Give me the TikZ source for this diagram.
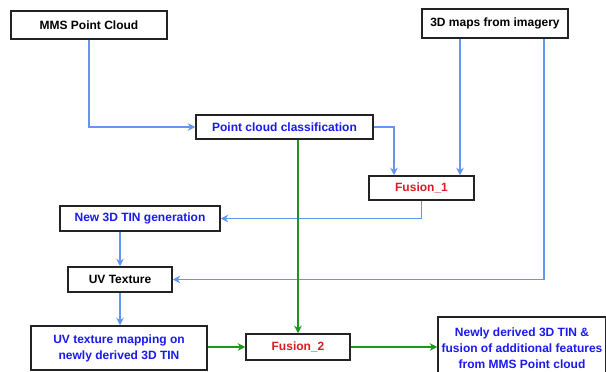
\documentclass[tikz,border=0pt]{standalone}
\usepackage{fontspec}
\setmainfont{Liberation Sans}
\usetikzlibrary{arrows.meta}
\definecolor{txtblue}{RGB}{25,25,240}
\definecolor{txtred}{RGB}{215,30,35}
\definecolor{lineblue}{RGB}{100,150,240}
\definecolor{linegreen}{RGB}{30,150,30}
\definecolor{boxline}{RGB}{35,35,35}
\begin{document}
\begin{tikzpicture}[x=1pt,y=-1pt,
  box/.style={draw=boxline,line width=1.5pt,fill=white,rectangle,inner sep=0pt,align=center,
    font=\fontsize{12}{16}\selectfont\bfseries},
  bluearr/.style={draw=lineblue,line width=1.5pt,-{Stealth[length=7.5pt,width=7.5pt]}},
  greenarr/.style={draw=linegreen,line width=1.5pt,-{Stealth[length=7.5pt,width=7.5pt]}}]
\useasboundingbox (0,0) rectangle (606,372);
\fill[white] (0,0) rectangle (606,372);
\begin{scope}
\clip (0,0) rectangle (606,372);
\node[box,minimum width=156,minimum height=28] (mms) at (89,25) {MMS Point Cloud};
\node[box,minimum width=146,minimum height=29] (maps) at (495,23.5) {3D maps from imagery};
\node[box,minimum width=177,minimum height=24,text=txtblue] (pcc) at (284.5,127) {Point cloud classification};
\node[box,minimum width=105,minimum height=24,text=txtred] (f1) at (421.5,188) {Fusion\_1};
\node[box,minimum width=160,minimum height=25,text=txtblue] (tin) at (140,218.5) {New 3D TIN generation};
\node[box,minimum width=104,minimum height=25] (uvt) at (120,279.5) {UV Texture};
\node[box,minimum width=176,minimum height=44,text=txtblue] (uvm) at (119,348) {UV texture mapping on\\newly derived 3D TIN};
\node[box,minimum width=104,minimum height=26,text=txtred] (f2) at (298,347) {Fusion\_2};
\node[box,minimum width=168,minimum height=62,text=txtblue] (nd) at (522,348) {Newly derived 3D TIN \&\\fusion of additional features\\from MMS Point cloud};

\coordinate (f1l) at ([xshift=-27.5]f1.north);
\coordinate (f1r) at ([xshift=38.5]f1.north);
\coordinate (mapsr) at ([xshift=49]maps.south);

\draw[bluearr] (mms.south) |- (pcc.west);
\draw[bluearr] (pcc.east) -| (f1l);
\draw[bluearr] (maps.south -| f1r) -- (f1r);
\draw[bluearr] (mapsr) |- (uvt.east);
\draw[bluearr] (f1.south) |- (tin.east);
\draw[bluearr] (tin.south -| uvt.north) -- (uvt.north);
\draw[bluearr] (uvt.south) -- (uvt.south |- uvm.north);
\draw[greenarr] (pcc.south -| f2.north) -- (f2.north);
\draw[greenarr] (uvm.east |- f2.west) -- (f2.west);
\draw[greenarr] (f2.east) -- (f2.east -| nd.west);
\end{scope}
\end{tikzpicture}
\end{document}
